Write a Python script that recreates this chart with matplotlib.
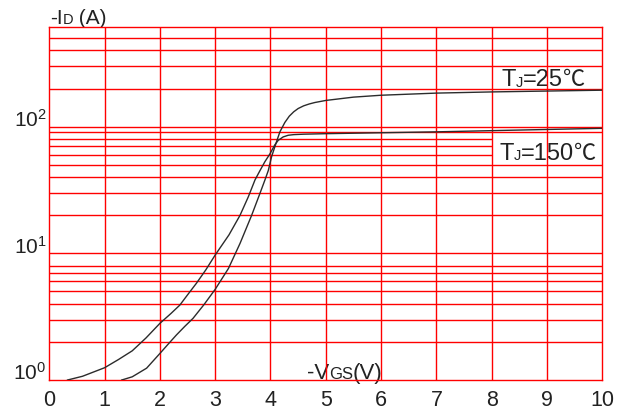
import matplotlib
matplotlib.use("Agg")
import matplotlib.pyplot as plt
from matplotlib.patches import Rectangle

plt.rcParams['font.family'] = ['Liberation Sans', 'Noto Sans CJK SC', 'DejaVu Sans']
plt.rcParams['mathtext.fontset'] = 'custom'
plt.rcParams['mathtext.rm'] = 'Liberation Sans'

# transfer characteristics
vgs_150 = [0.33, 0.6, 1.0, 1.25, 1.5, 1.75, 2.0, 2.2, 2.36, 2.5, 2.66, 2.83, 3.0, 3.25,
           3.45, 3.6, 3.72, 3.81, 3.9, 3.99, 4.08, 4.14, 4.23, 4.32, 4.42, 4.6, 5.0,
           6.0, 7.0, 8.0, 9.0, 10.0]
id_150 = [1.0, 1.07, 1.25, 1.45, 1.7, 2.15, 2.8, 3.35, 3.9, 4.7, 5.8, 7.4, 9.7, 14,
          20, 28, 38, 45, 53, 61, 72, 78, 83, 85.5, 86.5, 87.2, 88,
          89.5, 91, 93, 95, 97]

vgs_25 = [1.31, 1.5, 1.76, 2.0, 2.15, 2.3, 2.45, 2.6, 2.8, 3.0, 3.24, 3.45, 3.66, 3.8,
          3.9, 3.96, 4.02, 4.1, 4.17, 4.26, 4.34, 4.42, 4.5, 4.6, 4.7, 4.8, 4.9, 5.0,
          5.5, 6.0, 7.0, 8.0, 9.0, 10.0]
id_25 = [1.0, 1.06, 1.24, 1.62, 1.92, 2.27, 2.65, 3.07, 3.95, 5.2, 7.6, 12, 20, 29,
         38, 45, 58, 74, 91, 108, 121, 131, 139, 146, 151, 155, 158, 161,
         171, 177, 184, 188, 191, 194]

x_ticks = list(range(0, 11))
y_major = [1, 10, 100]
y_major_labels = [r'$\mathregular{10^0}$', r'$\mathregular{10^1}$', r'$\mathregular{10^2}$']
# grid lines as they appear in the chart (no 9 in the lowest decade)
y_grid = [2, 3, 4, 5, 6, 7, 8, 10, 20, 30, 40, 50, 60, 70, 80, 90, 100, 200, 300, 400, 500]
x_grid = [1, 2, 3, 4, 5, 6, 7, 8, 9]

red = '#ff0000'
ink = '#222222'
cjk = 'Noto Sans CJK SC'

fig = plt.figure(figsize=(6.23, 4.11), dpi=100)
ax = fig.add_axes([0.0791, 0.0754, 0.8877, 0.8596])
ax.set_yscale('log')
ax.set_xlim(0, 10)
ax.set_ylim(1, 615)

for y in y_grid:
    ax.axhline(y, color=red, lw=1.0, zorder=1)
for x in x_grid:
    ax.axvline(x, color=red, lw=1.0, zorder=3)

# white patch behind the 150 label that hides part of the horizontal grid
ax.add_patch(Rectangle((8, 53), 2, 33, facecolor='white', edgecolor='none', zorder=2))

ax.plot(vgs_25, id_25, color='#2b2b2b', lw=1.0, zorder=4)
ax.plot(vgs_150, id_150, color='#2b2b2b', lw=1.0, zorder=4)

for s in ax.spines.values():
    s.set_color(red)
    s.set_linewidth(1.0)
    s.set_zorder(3)

ax.set_xticks(x_ticks)
ax.set_xticklabels([str(v) for v in x_ticks])
ax.set_yticks(y_major)
ax.set_yticklabels(y_major_labels)
ax.yaxis.set_minor_locator(matplotlib.ticker.NullLocator())
ax.tick_params(axis='x', length=0, pad=7, labelsize=15.5, labelcolor=ink)
ax.tick_params(axis='y', length=0, pad=2, labelsize=15, labelcolor=ink)
for lab in ax.get_yticklabels():
    lab.set_va('baseline')


def put_label(x, y, parts):
    prev = None
    prev_size = None
    for part in parts:
        s, size = part[0], part[1]
        fam = part[2] if len(part) > 2 else None
        kw = {'family': fam} if fam else {}
        if prev is None:
            prev = ax.text(x, y, s, fontsize=size, color=ink, transform=ax.transAxes,
                           ha='left', va='baseline', zorder=2.5, **kw)
        else:
            dy = 0.21 * (prev_size - size)
            prev = ax.annotate(s, xy=(1, 0), xycoords=prev, xytext=(0, dy),
                               textcoords='offset points', fontsize=size, color=ink,
                               ha='left', va='bottom', zorder=2.5,
                               annotation_clip=False, **kw)
        prev_size = size


put_label(0.001, 1.007, [('-I', 15), ('D', 10.5), (' (A)', 15)])
put_label(0.4655, 0.004, [('-V', 16), ('GS', 12), ('(V)', 16)])
put_label(0.818, 0.831, [('T', 17), ('J', 10.5), ('=25', 17), ('℃', 16, cjk)])
put_label(0.8132, 0.623, [('T', 17), ('J', 10.5), ('=150', 17), ('℃', 16, cjk)])

fig.savefig('out.png', dpi=100)
